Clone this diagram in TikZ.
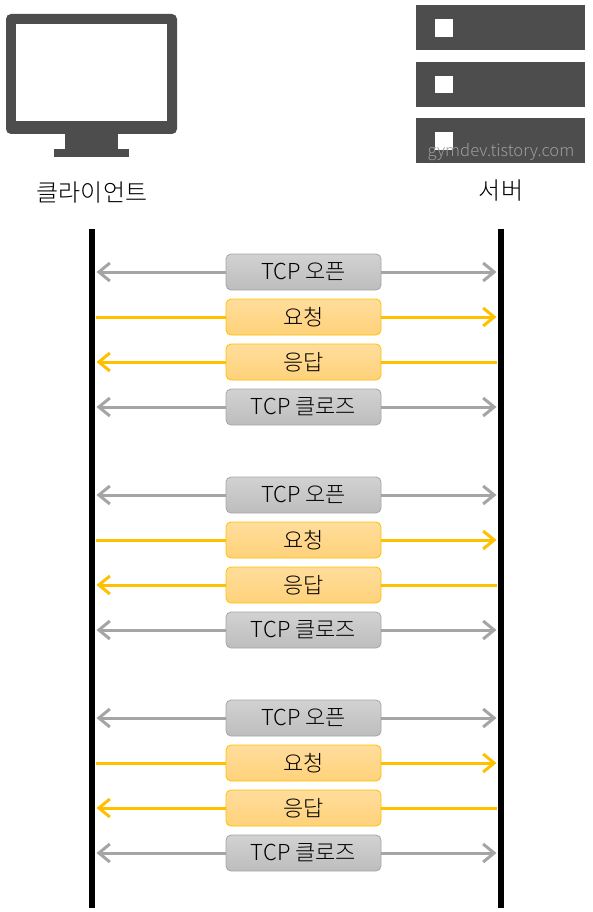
\documentclass[tikz,border=0pt]{standalone}
\usepackage{fontspec}
\setmainfont{Noto Sans CJK KR Light}
\usetikzlibrary{arrows.meta,positioning}
\definecolor{icon1}{HTML}{4D4D4D}
\definecolor{gray1}{HTML}{A5A5A5}
\definecolor{gray2}{HTML}{D2D2D2}
\definecolor{gray3}{HTML}{BDBDBD}
\definecolor{amber1}{HTML}{FFC000}
\definecolor{amber2}{HTML}{FFDD9C}
\definecolor{amber3}{HTML}{FFD27A}

\begin{document}
\begin{tikzpicture}[
    x=1pt,y=-1pt,
    node distance=9pt,
    conn/.style={draw=gray1,rounded corners=5pt,top color=gray2,bottom color=gray3,minimum height=36pt,minimum width=155pt,inner sep=0pt,outer sep=0pt,line width=.8pt,font=\fontsize{22}{24}\selectfont},
    msg/.style={conn,draw=amber1,top color=amber2,bottom color=amber3},
    title/.style={inner sep=0pt,font=\fontsize{24}{26}\selectfont},
    both/.style={-{Straight Barb[length=11pt,width=18pt,line width=3pt]},line width=3pt,gray1,shorten >=4.5pt},
    send/.style={-{Straight Barb[length=11pt,width=18pt,line width=3pt]},line width=3pt,amber1,shorten >=4.5pt},
    plain/.style={line width=3pt,amber1,shorten >=4pt},
    life/.style={line width=6pt}
]
\useasboundingbox (0,0) rectangle (593,912);

% monitor
\fill[icon1,rounded corners=5pt] (6,14) rectangle (177,134);
\fill[white] (16,24) rectangle (167,121);
\fill[icon1] (65,130) rectangle (118,150);
\fill[icon1] (54,149) rectangle (129,157);
% server
\fill[icon1] (416,5) rectangle (585,50);
\fill[icon1] (416,62) rectangle (585,107);
\fill[icon1] (416,118) rectangle (585,163);
\fill[white] (435,19) rectangle (453,37);
\fill[white] (435,76) rectangle (453,93);
\fill[white] (435,132) rectangle (453,150);
\node[inner sep=0pt,text=white!45!icon1,font=\fontsize{16.6}{18}\selectfont] (mark) at (501,152) {gymdev.tistory.com};

\node[title] (client) at (92,193) {클라이언트};
\node[title] (server) at (501,191) {서버};

\coordinate (cl0) at (92,229);
\coordinate (cl1) at (92,908);
\coordinate (sv0) at (501,229);
\coordinate (sv1) at (501,908);
\draw[life] (cl0) -- (cl1);
\draw[life] (sv0) -- (sv1);

\node[conn] (open0) at (303.5,272) {TCP 오픈};
\node[msg,below=of open0] (req0) {요청};
\node[msg,below=of req0] (resp0) {응답};
\node[conn,below=of resp0] (close0) {TCP 클로즈};

\node[conn,below=52pt of close0] (open1) {TCP 오픈};
\node[msg,below=of open1] (req1) {요청};
\node[msg,below=of req1] (resp1) {응답};
\node[conn,below=of resp1] (close1) {TCP 클로즈};

\node[conn,below=52pt of close1] (open2) {TCP 오픈};
\node[msg,below=of open2] (req2) {요청};
\node[msg,below=of req2] (resp2) {응답};
\node[conn,below=of resp2] (close2) {TCP 클로즈};

\draw[both] (open0) -- (open0 -| cl0);
\draw[both] (open0) -- (open0 -| sv0);
\draw[plain] (req0) -- (req0 -| cl0);
\draw[send] (req0) -- (req0 -| sv0);
\draw[send] (resp0) -- (resp0 -| cl0);
\draw[plain] (resp0) -- (resp0 -| sv0);
\draw[both] (close0) -- (close0 -| cl0);
\draw[both] (close0) -- (close0 -| sv0);

\draw[both] (open1) -- (open1 -| cl0);
\draw[both] (open1) -- (open1 -| sv0);
\draw[plain] (req1) -- (req1 -| cl0);
\draw[send] (req1) -- (req1 -| sv0);
\draw[send] (resp1) -- (resp1 -| cl0);
\draw[plain] (resp1) -- (resp1 -| sv0);
\draw[both] (close1) -- (close1 -| cl0);
\draw[both] (close1) -- (close1 -| sv0);

\draw[both] (open2) -- (open2 -| cl0);
\draw[both] (open2) -- (open2 -| sv0);
\draw[plain] (req2) -- (req2 -| cl0);
\draw[send] (req2) -- (req2 -| sv0);
\draw[send] (resp2) -- (resp2 -| cl0);
\draw[plain] (resp2) -- (resp2 -| sv0);
\draw[both] (close2) -- (close2 -| cl0);
\draw[both] (close2) -- (close2 -| sv0);

\end{tikzpicture}
\end{document}
